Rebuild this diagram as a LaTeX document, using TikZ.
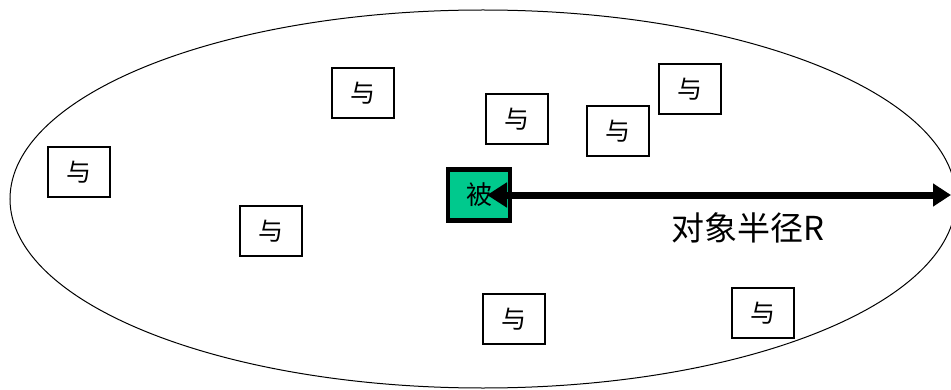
\documentclass[tikz,border=0pt]{standalone}
\usepackage{fontspec}
\newfontfamily\cjk{Noto Sans CJK SC}
\usetikzlibrary{arrows.meta}
\definecolor{tealgreen}{RGB}{0,201,141}
\tikzset{giver/.style={draw,line width=1.4pt,minimum width=62pt,minimum height=50pt,
    inner sep=0pt,font=\cjk\fontsize{25}{25}\selectfont},
    target/.style={draw,line width=4.5pt,fill=tealgreen,minimum width=62pt,
    minimum height=51pt,inner sep=0pt,font=\cjk\fontsize{26}{26}\selectfont},
    radius line/.style={line width=7pt,{Triangle[length=20pt,width=24pt]}-{Triangle[length=18pt,width=22pt]}}}

\begin{document}
\begin{tikzpicture}[x=1pt,y=1pt]
\useasboundingbox (0,0) rectangle (951,389);
\draw[line width=1pt] (483,190) ellipse [x radius=473, y radius=189];
\node[giver] (y1) at (79,217) {与};
\node[giver] (y2) at (363,296) {与};
\node[giver] (y3) at (517,270) {与};
\node[giver] (y4) at (618,258) {与};
\node[giver] (y5) at (690,300) {与};
\node[giver] (y6) at (271,158) {与};
\node[giver] (y7) at (514,70) {与};
\node[giver] (y8) at (763,76) {与};
\node[target] (tg) at (479,194) {被};
\coordinate (rim) at (951,194);
\draw[radius line,shorten <=8pt] (tg.center) -- (rim);
\node[font=\cjk\fontsize{33}{33}\selectfont] (lbl) at (748,161) {对象半径R};
\end{tikzpicture}
\end{document}
